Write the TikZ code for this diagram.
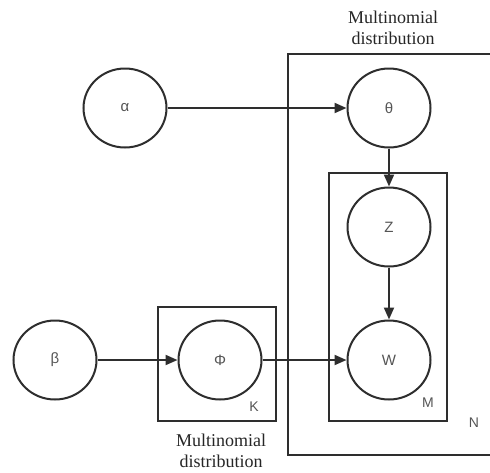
\documentclass[tikz,border=0pt]{standalone}
\usepackage{fontspec}
\setmainfont{Liberation Serif}
\newfontfamily\lblfont{Liberation Sans}
\usetikzlibrary{arrows.meta,shapes.geometric}
\definecolor{ink}{HTML}{2E2E2E}
\definecolor{lbl}{HTML}{555555}
\begin{document}
\begin{tikzpicture}[x=1pt,y=-1pt,
  var/.style={draw=ink,line width=2pt,ellipse,minimum width=83pt,minimum height=79pt,inner sep=0pt,font=\lblfont\fontsize{15}{17}\selectfont,text=lbl},
  plate/.style={draw=ink,line width=2pt},
  platelbl/.style={font=\lblfont\fontsize{14}{16}\selectfont,text=lbl,inner sep=0pt},
  edge/.style={draw=ink,line width=2pt,-{Triangle[length=12pt,width=10pt]}},
  note/.style={font=\fontsize{18}{21}\selectfont,align=center,text=black!85,inner sep=0pt}]
\useasboundingbox (0,0) rectangle (490,472);
\clip (0,0) rectangle (490,472);
\fill[white] (0,0) rectangle (490,472);
% plates
\draw[plate] (288,54) rectangle (500,455);
\draw[plate] (329,173) rectangle (447,421);
\draw[plate] (158,307) rectangle (276,421);
\node[platelbl] (Nl) at (474,423) {N};
\node[platelbl] (Ml) at (428,403) {M};
\node[platelbl] (Kl) at (254,407) {K};
% variables
\node[var] (alpha) at (125,108) {α};
\node[var] (theta) at (389,108) {θ};
\node[var] (z) at (389,227) {Z};
\node[var] (w) at (389,360) {W};
\node[var] (phi) at (220,360) {Φ};
\node[var] (beta) at (55,360) {β};
% edges
\draw[edge] (alpha) -- (theta);
\draw[edge] (theta) -- (z);
\draw[edge] (z) -- (w);
\draw[edge] (beta) -- (phi);
\draw[edge] (phi) -- (w);
% notes
\node[note] (n1) at (393,28) {Multinomial\\distribution};
\node[note] (n2) at (221,451) {Multinomial\\distribution};
\end{tikzpicture}
\end{document}
